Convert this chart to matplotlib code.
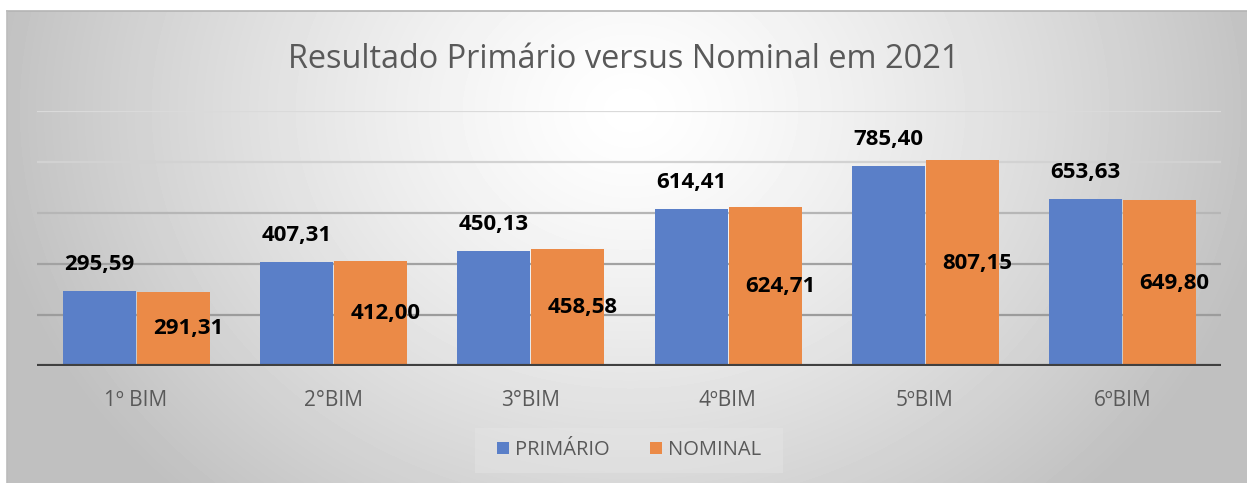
import matplotlib.pyplot as plt
import numpy as np

# dados do gráfico
categorias = ['1º BIM', '2°BIM', '3°BIM', '4ºBIM', '5ºBIM', '6ºBIM']
primario = [295.59, 407.31, 450.13, 614.41, 785.40, 653.63]
nominal = [291.31, 412.00, 458.58, 624.71, 807.15, 649.80]
rotulos_primario = ['295,59', '407,31', '450,13', '614,41', '785,40', '653,63']
rotulos_nominal = ['291,31', '412,00', '458,58', '624,71', '807,15', '649,80']
titulo = 'Resultado Primário versus Nominal em 2021'

cor_azul = '#5a7fc8'
cor_laranja = '#eb8a47'
cor_texto = '#595959'

plt.rcParams['font.family'] = ['Open Sans', 'DejaVu Sans']

W, H = 1247, 483
fig = plt.figure(figsize=(W / 100, H / 100), dpi=100)

# fundo com gradiente radial (estilo Excel)
bg = fig.add_axes([0, 0, 1, 1])
yy, xx = np.mgrid[0:H, 0:W]
d = np.sqrt(((xx - 630) / 650.0) ** 2 + ((yy - 110) / 540.0) ** 2)
img = 1 - 0.25 * np.clip(d, 0, 1) ** 1.3
img[yy < 11] = 1.0
img[xx < 7] = 1.0
bg.imshow(img, cmap='gray', vmin=0, vmax=1, extent=(0, W, H, 0), aspect='auto')
bg.plot([7, W], [11, 11], color='#b4b4b4', lw=1.2)
bg.plot([7, 7], [11, H], color='#bcbcbc', lw=1.2)
bg.set_xlim(0, W)
bg.set_ylim(H, 0)
bg.axis('off')

# caixa da legenda (levemente mais clara)
bg.add_patch(plt.Rectangle((475, 428), 308, 45, color='#e6e6e6', alpha=0.45, lw=0))

ax = fig.add_axes([37 / W, 117 / H, (1221 - 37) / W, (366 - 111) / H])
ax.patch.set_alpha(0)

x = np.arange(len(categorias))
larg = 0.37
ax.set_xlim(-0.5, len(categorias) - 0.5)
ax.set_ylim(0, 1000)

# linhas de grade
cores_grade = {200: '#9c9c9c', 400: '#a2a2a2', 600: '#b6b6b6', 800: '#d2d2d2', 1000: '#dadada'}
for v, c in cores_grade.items():
    ax.axhline(v, color=c, lw=1.6, zorder=0)

b1 = ax.bar(x - larg / 2, primario, larg, color=cor_azul, label='PRIMÁRIO', zorder=2)
b2 = ax.bar(x + larg / 2 + 0.005, nominal, larg, color=cor_laranja, label='NOMINAL', zorder=2)
ax.axhline(0, color='#404040', lw=3, zorder=3)

for i in range(len(categorias)):
    ax.annotate(rotulos_primario[i], (x[i] - larg / 2, primario[i]), xytext=(0, 19),
                textcoords='offset points', ha='center', va='center',
                fontsize=16, fontweight='bold', color='black', zorder=4)
    ax.text(x[i] + larg / 2 + 0.08, nominal[i] / 2, rotulos_nominal[i],
            ha='center', va='center', fontsize=16, fontweight='bold', color='black', zorder=4)

ax.set_xticks(x)
ax.set_xticklabels(categorias, fontsize=15, color=cor_texto)
ax.tick_params(axis='x', length=0, pad=17)
ax.set_yticks([])
for s in ax.spines.values():
    s.set_visible(False)

fig.text(0.5, 1 - 60 / H, titulo, ha='center', va='center', fontsize=23.4, color=cor_texto)

fig.legend(handles=[b1, b2], loc='center', bbox_to_anchor=(629 / W, 1 - 450 / H),
           ncol=2, frameon=False, fontsize=14.5, labelcolor=cor_texto,
           handlelength=0.6, handleheight=0.6, handletextpad=0.3, columnspacing=2.0)

fig.savefig('out.png', dpi=100)
